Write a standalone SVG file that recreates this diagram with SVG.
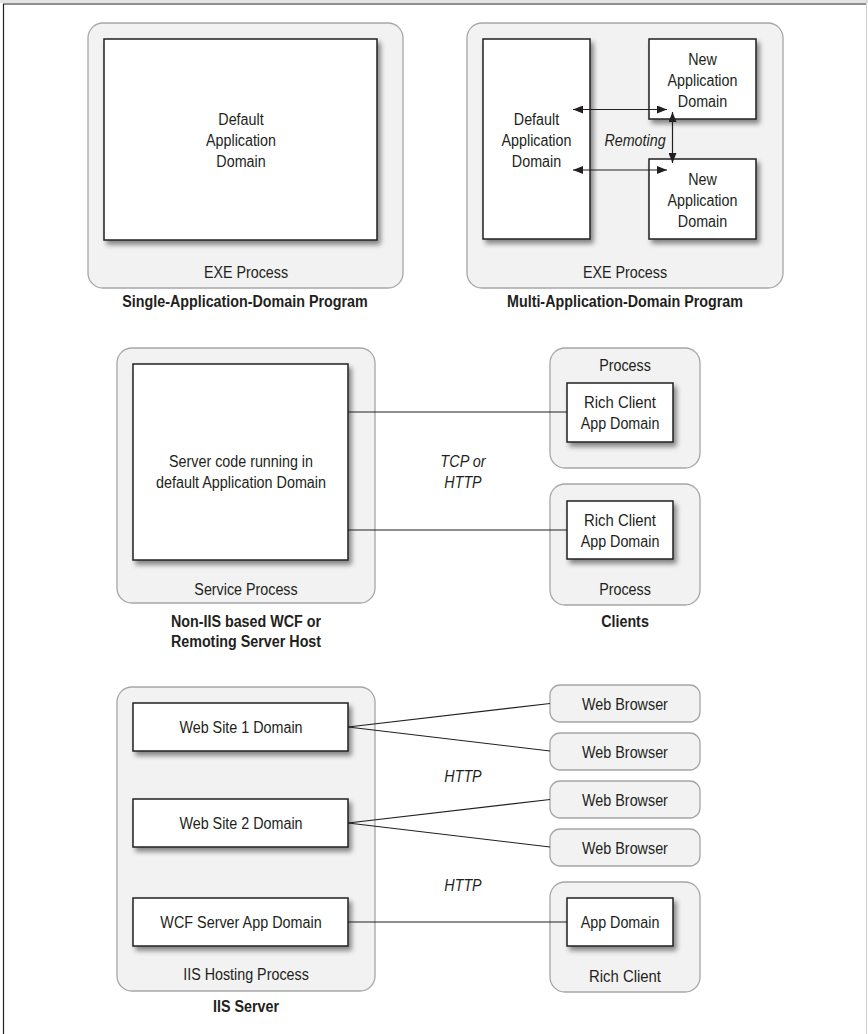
<svg xmlns="http://www.w3.org/2000/svg" width="868" height="1034" viewBox="0 0 868 1034">
<defs>
<filter id="sh" x="-10%" y="-10%" width="130%" height="140%">
<feDropShadow dx="3" dy="4" stdDeviation="2.5" flood-color="#000" flood-opacity="0.45"/>
</filter>
<marker id="ah" viewBox="0 0 10 8" refX="10" refY="4" markerWidth="10" markerHeight="8" markerUnits="userSpaceOnUse" orient="auto-start-reverse">
<path d="M0,0 L10,4 L0,8 z" fill="#231f20"/>
</marker>
</defs>
<style>
.proc{fill:#f2f2f2;stroke:#a6a6a6;stroke-width:1.3}
.dom{fill:#fff;stroke:#231f20;stroke-width:1.5;filter:url(#sh)}
text{font-family:"Liberation Sans",Arial,sans-serif;font-size:16px;fill:#231f20;text-anchor:middle}
.b{font-weight:bold}
.i{font-style:italic}
.ln{stroke:#231f20;stroke-width:1.2;fill:none}
.frame{stroke:#222;stroke-width:1.2;fill:none}
</style>
<rect x="0" y="0" width="868" height="1034" fill="#fff"/>
<g id="frame">
<rect x="0" y="0" width="868" height="3" fill="#e4e4e4"/>
<line x1="866.5" y1="0" x2="866.5" y2="1034" stroke="#d0d0d0" stroke-width="1"/>
<path class="frame" d="M3.5,1034 V4 H866"/>
</g>

<g id="single">
<rect class="proc" x="88" y="23" width="315" height="265" rx="15"/>
<text x="246" y="278" textLength="84.2" lengthAdjust="spacingAndGlyphs">EXE Process</text>
<text class="b" x="245" y="307" textLength="245.5" lengthAdjust="spacingAndGlyphs">Single-Application-Domain Program</text>
</g>
<g id="single-default">
<rect class="dom" x="104" y="39" width="273" height="201"/>
<text x="241" y="125" textLength="45.3" lengthAdjust="spacingAndGlyphs">Default</text>
<text x="241" y="146" textLength="69.9" lengthAdjust="spacingAndGlyphs">Application</text>
<text x="241" y="167" textLength="49.3" lengthAdjust="spacingAndGlyphs">Domain</text>
</g>

<g id="multi">
<rect class="proc" x="467" y="23" width="316" height="265" rx="15"/>
<text x="625" y="278" textLength="84.2" lengthAdjust="spacingAndGlyphs">EXE Process</text>
<text class="b" x="625" y="307" textLength="236" lengthAdjust="spacingAndGlyphs">Multi-Application-Domain Program</text>
</g>
<g id="multi-default">
<rect class="dom" x="483" y="39" width="107" height="200"/>
<text x="536.5" y="125" textLength="45.3" lengthAdjust="spacingAndGlyphs">Default</text>
<text x="536.5" y="146" textLength="69.9" lengthAdjust="spacingAndGlyphs">Application</text>
<text x="536.5" y="167" textLength="49.3" lengthAdjust="spacingAndGlyphs">Domain</text>
</g>
<g id="new1">
<rect class="dom" x="649" y="39" width="107" height="80"/>
<text x="702.5" y="65" textLength="28.6" lengthAdjust="spacingAndGlyphs">New</text>
<text x="702.5" y="86" textLength="69.9" lengthAdjust="spacingAndGlyphs">Application</text>
<text x="702.5" y="107" textLength="49.3" lengthAdjust="spacingAndGlyphs">Domain</text>
</g>
<g id="new2">
<rect class="dom" x="649" y="159" width="107" height="80"/>
<text x="702.5" y="185" textLength="28.6" lengthAdjust="spacingAndGlyphs">New</text>
<text x="702.5" y="206" textLength="69.9" lengthAdjust="spacingAndGlyphs">Application</text>
<text x="702.5" y="227" textLength="49.3" lengthAdjust="spacingAndGlyphs">Domain</text>
</g>

<g id="service">
<rect class="proc" x="117" y="348" width="258" height="255" rx="15"/>
<text x="246" y="595" textLength="103.3" lengthAdjust="spacingAndGlyphs">Service Process</text>
<text class="b" x="246" y="627" textLength="150.2" lengthAdjust="spacingAndGlyphs">Non-IIS based WCF or</text>
<text class="b" x="246" y="647" textLength="150.2" lengthAdjust="spacingAndGlyphs">Remoting Server Host</text>
</g>
<g id="server-code">
<rect class="dom" x="133" y="364" width="215" height="196"/>
<text x="241" y="467" textLength="143.9" lengthAdjust="spacingAndGlyphs">Server code running in</text>
<text x="241" y="488" textLength="170.1" lengthAdjust="spacingAndGlyphs">default Application Domain</text>
</g>
<g id="client1">
<rect class="proc" x="550" y="348" width="150" height="120" rx="15"/>
<text x="625" y="371" textLength="51.7" lengthAdjust="spacingAndGlyphs">Process</text>
</g>
<g id="client1-domain">
<rect class="dom" x="567" y="383" width="106" height="59"/>
<text x="620" y="408" textLength="72" lengthAdjust="spacingAndGlyphs">Rich Client</text>
<text x="620" y="429" textLength="78.7" lengthAdjust="spacingAndGlyphs">App Domain</text>
</g>
<g id="client2">
<rect class="proc" x="550" y="484" width="150" height="121" rx="15"/>
<text x="625" y="595" textLength="51.7" lengthAdjust="spacingAndGlyphs">Process</text>
<text class="b" x="625" y="627" textLength="47.7" lengthAdjust="spacingAndGlyphs">Clients</text>
</g>
<g id="client2-domain">
<rect class="dom" x="567" y="501" width="106" height="58"/>
<text x="620" y="526" textLength="72" lengthAdjust="spacingAndGlyphs">Rich Client</text>
<text x="620" y="547" textLength="78.7" lengthAdjust="spacingAndGlyphs">App Domain</text>
</g>

<g id="iis">
<rect class="proc" x="117" y="687" width="258" height="304" rx="15"/>
<text x="246" y="980" textLength="125.6" lengthAdjust="spacingAndGlyphs">IIS Hosting Process</text>
<text class="b" x="246" y="1012" textLength="66" lengthAdjust="spacingAndGlyphs">IIS Server</text>
</g>
<g id="ws1">
<rect class="dom" x="133" y="703" width="215" height="48"/>
<text x="241" y="733" textLength="123.2" lengthAdjust="spacingAndGlyphs">Web Site 1 Domain</text>
</g>
<g id="ws2">
<rect class="dom" x="133" y="799" width="215" height="48"/>
<text x="241" y="829" textLength="123.2" lengthAdjust="spacingAndGlyphs">Web Site 2 Domain</text>
</g>
<g id="wcf">
<rect class="dom" x="133" y="898" width="215" height="48"/>
<text x="241" y="928" textLength="161.3" lengthAdjust="spacingAndGlyphs">WCF Server App Domain</text>
</g>
<g id="wb1">
<rect class="proc" x="550" y="685" width="150" height="37" rx="10"/>
<text x="625" y="710" textLength="85.8" lengthAdjust="spacingAndGlyphs">Web Browser</text>
</g>
<g id="wb2">
<rect class="proc" x="550" y="733" width="150" height="37" rx="10"/>
<text x="625" y="758" textLength="85.8" lengthAdjust="spacingAndGlyphs">Web Browser</text>
</g>
<g id="wb3">
<rect class="proc" x="550" y="781" width="150" height="37" rx="10"/>
<text x="625" y="806" textLength="85.8" lengthAdjust="spacingAndGlyphs">Web Browser</text>
</g>
<g id="wb4">
<rect class="proc" x="550" y="829" width="150" height="37" rx="10"/>
<text x="625" y="854" textLength="85.8" lengthAdjust="spacingAndGlyphs">Web Browser</text>
</g>
<g id="richclient">
<rect class="proc" x="550" y="882" width="150" height="110" rx="15"/>
<text x="625" y="982" textLength="72" lengthAdjust="spacingAndGlyphs">Rich Client</text>
</g>
<g id="appdomain">
<rect class="dom" x="567" y="898" width="106" height="48"/>
<text x="620" y="928" textLength="78.7" lengthAdjust="spacingAndGlyphs">App Domain</text>
</g>

<g id="connectors">
<line class="ln" x1="573" y1="109.5" x2="667" y2="109.5" marker-start="url(#ah)" marker-end="url(#ah)"/>
<line class="ln" x1="573" y1="170" x2="667" y2="170" marker-start="url(#ah)" marker-end="url(#ah)"/>
<line class="ln" x1="672.5" y1="112" x2="672.5" y2="163" marker-start="url(#ah)" marker-end="url(#ah)"/>
<text class="i" x="635" y="146" textLength="61.2" lengthAdjust="spacingAndGlyphs">Remoting</text>
<line class="ln" x1="348" y1="412" x2="567" y2="412"/>
<line class="ln" x1="348" y1="530" x2="567" y2="530"/>
<text class="i" x="463" y="467" textLength="45.3" lengthAdjust="spacingAndGlyphs">TCP or</text>
<text class="i" x="463" y="488" textLength="37.3" lengthAdjust="spacingAndGlyphs">HTTP</text>
<line class="ln" x1="348" y1="727" x2="550" y2="703.5"/>
<line class="ln" x1="348" y1="727" x2="550" y2="751"/>
<line class="ln" x1="348" y1="823" x2="550" y2="799.5"/>
<line class="ln" x1="348" y1="823" x2="550" y2="847"/>
<line class="ln" x1="348" y1="922" x2="567" y2="922"/>
<text class="i" x="463" y="782" textLength="37.3" lengthAdjust="spacingAndGlyphs">HTTP</text>
<text class="i" x="463" y="891" textLength="37.3" lengthAdjust="spacingAndGlyphs">HTTP</text>
</g>
</svg>
